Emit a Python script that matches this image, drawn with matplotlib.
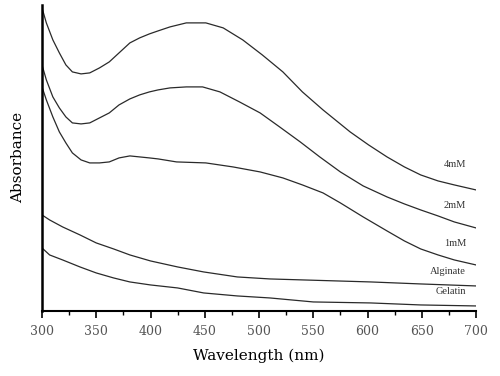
import matplotlib
matplotlib.use("Agg")
import matplotlib.pyplot as plt
from matplotlib.ticker import MultipleLocator

# wavelength (nm) and absorbance
wl_4mM = [300, 304, 310, 316, 322, 328, 336, 344, 353, 362, 371, 381, 390, 399, 407, 418, 433,
          451, 467, 485, 503, 522, 540, 559, 584, 601, 618, 634, 649, 665, 680, 700]
abs_4mM = [3.03, 2.88, 2.71, 2.58, 2.46, 2.39, 2.37, 2.38, 2.43, 2.49, 2.58, 2.68, 2.73, 2.77, 2.80, 2.84, 2.88,
           2.88, 2.83, 2.71, 2.56, 2.39, 2.19, 2.01, 1.79, 1.66, 1.54, 1.44, 1.36, 1.30, 1.26, 1.21]

wl_2mM = [300, 304, 310, 316, 322, 328, 336, 344, 353, 362, 371, 381, 390, 399, 407, 418, 433,
          448, 464, 482, 501, 519, 538, 556, 575, 596, 618, 634, 649, 665, 680, 700]
abs_2mM = [2.46, 2.31, 2.14, 2.03, 1.94, 1.88, 1.87, 1.88, 1.93, 1.98, 2.06, 2.12, 2.16, 2.19, 2.21, 2.23, 2.24,
           2.24, 2.19, 2.09, 1.98, 1.84, 1.69, 1.54, 1.39, 1.25, 1.14, 1.07, 1.01, 0.95, 0.89, 0.83]

wl_1mM = [300, 304, 310, 316, 322, 328, 336, 344, 353, 362, 371, 381, 390, 399, 407, 424, 451,
          476, 501, 522, 540, 559, 575, 596, 618, 634, 649, 665, 680, 700]
abs_1mM = [2.24, 2.11, 1.94, 1.79, 1.68, 1.58, 1.51, 1.48, 1.48, 1.49, 1.53, 1.55, 1.54, 1.53, 1.52, 1.49, 1.48,
           1.44, 1.39, 1.33, 1.26, 1.18, 1.08, 0.94, 0.80, 0.70, 0.62, 0.56, 0.51, 0.46]

wl_alginate = [300, 307, 319, 335, 350, 366, 381, 400, 425, 449, 480, 510, 541, 603, 649, 700]
abs_alginate = [0.96, 0.91, 0.84, 0.76, 0.68, 0.62, 0.56, 0.50, 0.44, 0.39, 0.34, 0.32, 0.31, 0.29, 0.27, 0.25]

wl_gelatin = [300, 307, 319, 335, 350, 366, 381, 400, 425, 449, 480, 510, 550, 603, 649, 700]
abs_gelatin = [0.63, 0.56, 0.51, 0.44, 0.38, 0.33, 0.29, 0.26, 0.23, 0.18, 0.15, 0.13, 0.09, 0.08, 0.06, 0.05]

series = [
    (wl_4mM, abs_4mM, "4mM", 1.46),
    (wl_2mM, abs_2mM, "2mM", 1.05),
    (wl_1mM, abs_1mM, "1mM", 0.67),
    (wl_alginate, abs_alginate, "Alginate", 0.39),
    (wl_gelatin, abs_gelatin, "Gelatin", 0.19),
]

fig = plt.figure(figsize=(5, 3.76), dpi=100)
ax = fig.add_axes([0.084, 0.173, 0.868, 0.814])

for wl, ab, name, label_y in series:
    ax.plot(wl, ab, color="#2a2a2a", lw=0.9)
    ax.text(691, label_y, name, ha="right", va="center", fontsize=7.5,
            family="Liberation Serif", color="#333333")

ax.set_xlim(300, 700)
ax.set_ylim(0, 3.06)

ax.spines["top"].set_visible(False)
ax.spines["right"].set_visible(False)
ax.spines["left"].set_linewidth(1.8)
ax.spines["bottom"].set_linewidth(1.5)

ax.xaxis.set_major_locator(MultipleLocator(50))
ax.xaxis.set_minor_locator(MultipleLocator(25))
ax.tick_params(axis="x", which="major", direction="out", length=5, width=1.2,
               labelsize=9, labelcolor="#555555", pad=5)
ax.tick_params(axis="x", which="minor", direction="out", length=3, width=1.0)
ax.set_yticks([])
for lbl in ax.get_xticklabels():
    lbl.set_family("DejaVu Serif")

ax.set_xlabel("Wavelength (nm)", family="DejaVu Serif", fontsize=11, labelpad=8)
ax.set_ylabel("Absorbance", family="DejaVu Serif", fontsize=11, labelpad=12)

fig.savefig("out.png", dpi=100)
